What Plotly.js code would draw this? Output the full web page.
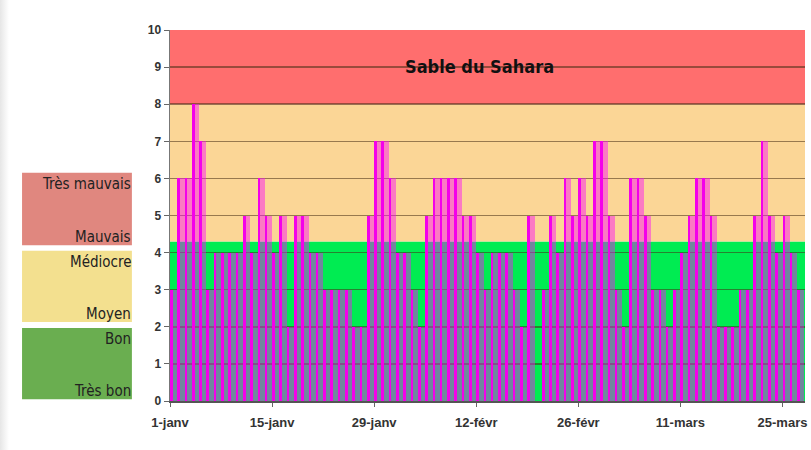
<!DOCTYPE html>
<html>
<head>
<meta charset="utf-8">
<script src="https://cdn.plot.ly/plotly-3.0.1.min.js"></script>
<style>
  html, body { margin: 0; padding: 0; overflow: hidden; }
  body { background: linear-gradient(to right, #e6e6e6 0px, #ffffff 9px); }
  #fig { width: 811px; height: 450px; }
</style>
</head>
<body>
<div id="fig"></div>
<script>
"use strict";

// daily index, 1 janv -> 27 mars
const startDate = "2012-01-01";
const dailyIndex = [
  3, 6, 6, 8, 7, 3, 4, 4, 4, 4, 5, 4, 6, 5, 4, 5, 2, 5, 5, 4, 4, 3, 3, 3, 3, 2, 2, 5, 7, 7, 6,   // janv
  4, 4, 3, 2, 5, 6, 6, 6, 6, 5, 5, 4, 3, 4, 4, 4, 3, 2, 5, 0, 3, 5, 4, 6, 5, 6, 5, 7, 7,         // févr
  5, 3, 2, 6, 6, 5, 3, 3, 2, 3, 4, 5, 6, 6, 5, 2, 2, 2, 3, 3, 5, 7, 5, 4, 5, 4, 3                // mars
];

const tickDates  = ["2012-01-01", "2012-01-15", "2012-01-29", "2012-02-12", "2012-02-26", "2012-03-11", "2012-03-25"];
const tickLabels = ["1-janv", "15-janv", "29-janv", "12-févr", "26-févr", "11-mars", "25-mars"];

// background bands (index limits) : good / medium / sand
const bandLimits = [0, 4.3, 8, 10];
const bandColors = ["#00ec52", "#fbd696", "#ff6e6e"];

// quality scale on the left
const scaleBoxes  = [[4.2, 6.15], [2.13, 4.05], [0.05, 1.97]];
const scaleColors = ["#e0877f", "#f3e08f", "#6aae50"];
const scaleTop    = ["Très mauvais", "Médiocre", "Bon"];
const scaleBottom = ["Mauvais", "Moyen", "Très bon"];

const DAY = 86400000;

function dayString(i) {
  let d = new Date(startDate + "T00:00:00Z");
  d.setUTCDate(d.getUTCDate() + i);
  return d.toISOString().slice(0, 10);
}

let days = dailyIndex.map((v, i) => dayString(i));

// translucent body of each daily bar
let barFill = {
  type: "bar", x: days, y: dailyIndex,
  width: DAY, offset: 0,
  marker: {color: "rgba(250,10,250,0.45)", line: {width: 0}},
  hoverinfo: "x+y", showlegend: false
};

// solid magenta edge of each bar
let barEdge = {
  type: "bar", x: days, y: dailyIndex,
  width: DAY * 0.36, offset: 0,
  marker: {color: "#f400ea", line: {width: 0}},
  hoverinfo: "skip", showlegend: false
};

let shapes = [];
let annotations = [];

// coloured bands behind the bars
for (let i = 0; i < bandColors.length; i++) {
  shapes.push({type: "rect", layer: "below", xref: "paper", yref: "y",
               x0: 0, x1: 1, y0: bandLimits[i], y1: bandLimits[i + 1],
               fillcolor: bandColors[i], line: {width: 0}});
}

const narrow = "Liberation Sans Narrow, DejaVu Sans Condensed, Arial Narrow, sans-serif";
const tickFont = {family: "Liberation Sans, Arial, sans-serif", size: 12, color: "#333", weight: "bold"};

// quality scale boxes and labels
for (let i = 0; i < scaleBoxes.length; i++) {
  shapes.push({type: "rect", xref: "paper", yref: "y",
               x0: -0.233, x1: -0.06, y0: scaleBoxes[i][0], y1: scaleBoxes[i][1],
               fillcolor: scaleColors[i], line: {width: 0}});
  annotations.push({text: scaleTop[i], xref: "paper", yref: "y",
                    x: -0.059, y: scaleBoxes[i][1], xanchor: "right", yanchor: "top",
                    showarrow: false, font: {family: narrow, size: 15, color: "#222"}});
  annotations.push({text: scaleBottom[i], xref: "paper", yref: "y",
                    x: -0.059, y: scaleBoxes[i][0], xanchor: "right", yanchor: "bottom",
                    yshift: -3, showarrow: false,
                    font: {family: narrow, size: 15, color: "#222"}});
}

annotations.push({text: "<b>Sable du Sahara</b>", xref: "paper", yref: "y",
                  x: 0.488, y: 9.02, showarrow: false,
                  font: {family: narrow, size: 18, color: "#111"}});

let layout = {
  width: 811, height: 450,
  margin: {l: 170, r: 6, t: 30, b: 49},
  paper_bgcolor: "rgba(0,0,0,0)",
  plot_bgcolor: "rgba(0,0,0,0)",
  barmode: "overlay",
  bargap: 0,
  xaxis: {type: "date", range: ["2012-01-01", "2012-03-28 02:00"],
          tickvals: tickDates, ticktext: tickLabels,
          ticks: "outside", ticklen: 4, tickcolor: "#666",
          ticklabelstandoff: 5,
          showline: true, linecolor: "#555", linewidth: 1.5,
          showgrid: false,
          tickfont: Object.assign({}, tickFont, {size: 13})},
  yaxis: {range: [0, 10], dtick: 1, fixedrange: true,
          ticks: "outside", ticklen: 5, tickcolor: "#666",
          showline: true, linecolor: "#777", linewidth: 1.5,
          gridcolor: "rgba(70,45,20,0.55)", gridwidth: 1.5,
          zeroline: false,
          tickfont: tickFont},
  shapes: shapes,
  annotations: annotations
};

Plotly.newPlot("fig", [barFill, barEdge], layout, {displayModeBar: false, staticPlot: true});
</script>
</body>
</html>
